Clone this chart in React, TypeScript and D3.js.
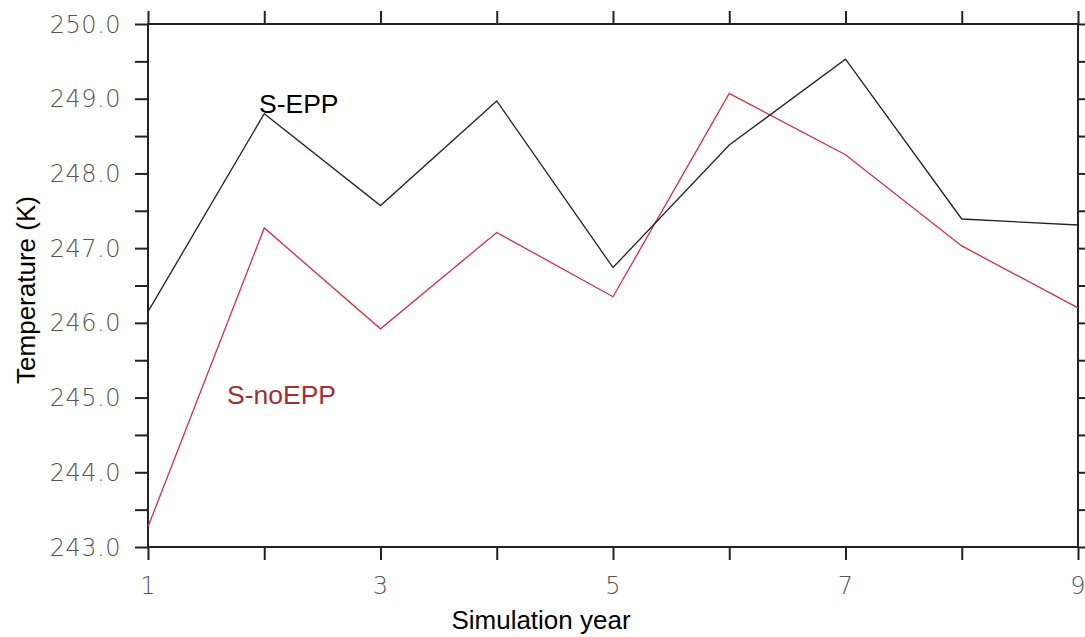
import React, { useEffect, useRef } from "react";
import * as d3 from "d3";

const years = [1, 2, 3, 4, 5, 6, 7, 8, 9];
const sEpp = [246.15, 248.8, 247.57, 248.97, 246.74, 248.38, 249.53, 247.39, 247.31];
const sNoEpp = [243.27, 247.27, 245.92, 247.21, 246.35, 249.07, 248.25, 247.03, 246.2];
const yTicks = [243, 244, 245, 246, 247, 248, 249, 250];
const xLabels = [1, 3, 5, 7, 9];

const App = () => {
    const ref = useRef<SVGSVGElement>(null);

    useEffect(() => {
        const svg = d3.select(ref.current);
        svg.selectAll("*").remove();
        const width = 1085;
        const height = 637;
        const margin = { top: 24, right: 7, bottom: 90, left: 148 };

        const x = d3.scaleLinear().domain([1, 9]).range([margin.left, width - margin.right]);
        const y = d3.scaleLinear().domain([243, 250]).range([height - margin.bottom, margin.top]);

        const minor = d3.range(243, 250.01, 0.5);
        const tickLen = 13;
        const font = "Liberation Sans, Arial, sans-serif";
        const tickFont = "DejaVu Sans, sans-serif";

        // left axis
        svg.append("g")
            .attr("transform", `translate(${margin.left},0)`)
            .call(d3.axisLeft(y).tickValues(minor).tickSize(tickLen).tickFormat(() => ""))
            .call(g => g.select(".domain").remove())
            .call(g => g.selectAll("line").attr("stroke", "#222").attr("stroke-width", 2));
        svg.append("g")
            .selectAll("text")
            .data(yTicks)
            .enter().append("text")
            .attr("x", 121)
            .attr("y", d => y(d))
            .attr("dy", "0.36em")
            .attr("text-anchor", "end")
            .attr("font-family", tickFont)
            .attr("font-weight", 200)
            .attr("font-size", 24)
            .attr("letter-spacing", 0.5)
            .attr("fill", "#555")
            .text(d => d.toFixed(1));

        // right axis
        svg.append("g")
            .attr("transform", `translate(${width - margin.right},0)`)
            .call(d3.axisRight(y).tickValues(minor).tickSize(tickLen).tickFormat(() => ""))
            .call(g => g.select(".domain").remove())
            .call(g => g.selectAll("line").attr("stroke", "#222").attr("stroke-width", 2));

        // bottom axis
        svg.append("g")
            .attr("transform", `translate(0,${height - margin.bottom})`)
            .call(d3.axisBottom(x).tickValues(years).tickSize(tickLen).tickFormat(() => ""))
            .call(g => g.select(".domain").remove())
            .call(g => g.selectAll("line").attr("stroke", "#222").attr("stroke-width", 2));
        svg.append("g")
            .selectAll("text")
            .data(xLabels)
            .enter().append("text")
            .attr("x", d => x(d))
            .attr("y", 594)
            .attr("text-anchor", "middle")
            .attr("font-family", tickFont)
            .attr("font-weight", 200)
            .attr("font-size", 24)
            .attr("fill", "#555")
            .text(d => d);

        // top axis
        svg.append("g")
            .attr("transform", `translate(0,${margin.top})`)
            .call(d3.axisTop(x).tickValues(years).tickSize(tickLen).tickFormat(() => ""))
            .call(g => g.select(".domain").remove())
            .call(g => g.selectAll("line").attr("stroke", "#222").attr("stroke-width", 2));

        // frame
        svg.append("rect")
            .attr("x", margin.left)
            .attr("y", margin.top)
            .attr("width", width - margin.left - margin.right)
            .attr("height", height - margin.top - margin.bottom)
            .attr("fill", "none")
            .attr("stroke", "#222")
            .attr("stroke-width", 2);

        const line = d3.line<number>()
            .x((d, i) => x(years[i]))
            .y(d => y(d));

        svg.append("path")
            .datum(sNoEpp)
            .attr("fill", "none")
            .attr("stroke", "#d8303a")
            .attr("stroke-width", 1.3)
            .attr("d", line);

        svg.append("path")
            .datum(sEpp)
            .attr("fill", "none")
            .attr("stroke", "#222")
            .attr("stroke-width", 1.3)
            .attr("d", line);

        svg.append("text")
            .attr("x", 259)
            .attr("y", 113)
            .attr("font-family", font)
            .attr("font-size", 26.5)
            .attr("fill", "#000")
            .text("S-EPP");

        svg.append("text")
            .attr("x", 227)
            .attr("y", 404)
            .attr("font-family", font)
            .attr("font-size", 26.5)
            .attr("fill", "#a3302f")
            .text("S-noEPP");

        svg.append("text")
            .attr("x", 541)
            .attr("y", 629)
            .attr("text-anchor", "middle")
            .attr("font-family", font)
            .attr("font-size", 26)
            .attr("fill", "#000")
            .text("Simulation year");

        svg.append("text")
            .attr("transform", `translate(35,290) rotate(-90)`)
            .attr("text-anchor", "middle")
            .attr("font-family", font)
            .attr("font-size", 26)
            .attr("fill", "#000")
            .text("Temperature (K)");
    });

    return (
        <svg ref={ref} width={1085} height={637}
            style={{ position: "absolute", left: 0, top: 0, background: "#fff" }} />
    );
};

export default App;
